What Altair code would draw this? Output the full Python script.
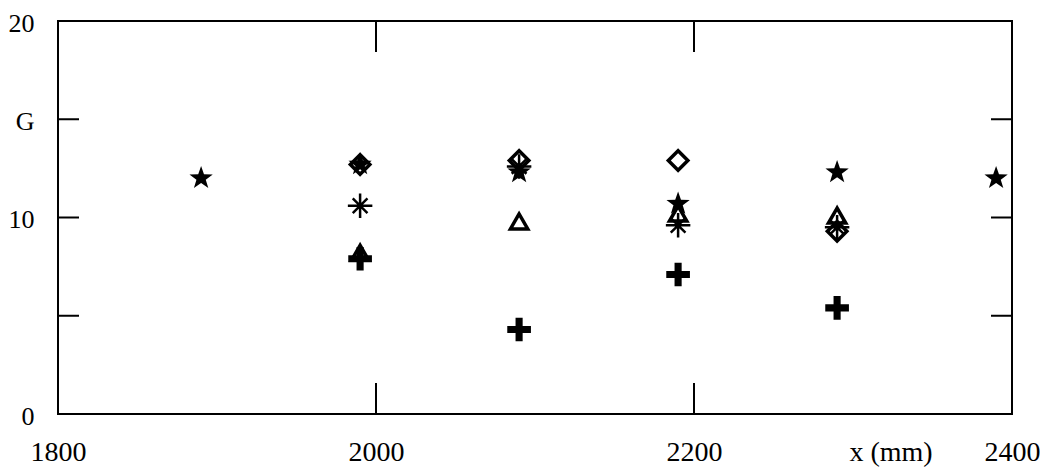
import altair as alt
import pandas as pd

# ---- data ----
x_star = [1890, 1990, 2090, 2190, 2290, 2390]
g_star = [12.0, 12.7, 12.3, 10.7, 12.3, 12.0]

x_diamond = [1990, 2090, 2190, 2290]
g_diamond = [12.7, 12.9, 12.9, 9.3]

x_triangle = [1990, 2090, 2190, 2290]
g_triangle = [8.2, 9.8, 10.2, 10.1]

x_aster = [1990, 2090, 2190, 2290]
g_aster = [10.6, 12.6, 9.6, 9.5]

x_plus = [1990, 2090, 2190, 2290]
g_plus = [7.9, 4.3, 7.1, 5.4]

x_ticks = [1800, 2000, 2200, 2400]
y_ticks = [0, 10, 15, 20]
inner_x_ticks = [2000, 2200]
inner_y_ticks = [5, 10, 15]
y_label_15 = "G"
x_title = "x (mm)"

W, H = 954, 393
FONT = "Liberation Serif"

xs = alt.Scale(domain=[1800, 2400], nice=False, zero=False)
ys = alt.Scale(domain=[0, 20], nice=False, zero=False)

xax = alt.Axis(values=x_ticks, domain=False, ticks=False, grid=False, labelFont=FONT,
               labelFontSize=28, labelPadding=24, labelFlush=False, labelColor="black",
               title=None, format="d")
yax = alt.Axis(values=y_ticks, domain=False, ticks=False, grid=False, labelFont=FONT,
               labelFontSize=26, labelPadding=24, labelOffset=2, labelColor="black",
               title=None, labelFlush=False,
               labelExpr=f"datum.value == 15 ? '{y_label_15}' : datum.label")

def df(x, g):
    return pd.DataFrame({"x": x, "g": g})

STAR = ("M0,-1L0.235,-0.324L0.951,-0.309L0.380,0.124L0.588,0.809L0,0.4L-0.588,0.809"
        "L-0.380,0.124L-0.951,-0.309L-0.235,-0.324Z")
PLUS = "M-0.3,-1H0.3V-0.3H1V0.3H0.3V1H-0.3V0.3H-1V-0.3H-0.3Z"
ASTER = "M0,-1L0,1M-1,0L1,0M-0.6,-0.6L0.6,0.6M-0.6,0.6L0.6,-0.6"

def pts(d, **kw):
    return alt.Chart(d).mark_point(color="black", opacity=1, **kw).encode(
        x=alt.X("x:Q", scale=xs, axis=xax),
        y=alt.Y("g:Q", scale=ys, axis=yax),
    )

plus = pts(df(x_plus, g_plus), shape=PLUS, filled=True, size=560)
tri = pts(df(x_triangle, g_triangle), shape="triangle-up", filled=False, size=300, strokeWidth=3.5)
dia = pts(df(x_diamond, g_diamond), shape="diamond", filled=False, size=380, strokeWidth=3.5)
ast = pts(df(x_aster, g_aster), shape=ASTER, filled=False, size=600, strokeWidth=2.5)
star = pts(df(x_star, g_star), shape=STAR, filled=True, size=600)

tx = pd.DataFrame({"x": inner_x_ticks})
ty = pd.DataFrame({"g": inner_y_ticks})
top_t = alt.Chart(tx).mark_rule(color="black", strokeWidth=2).encode(
    x=alt.X("x:Q", scale=xs), y=alt.value(0), y2=alt.value(31))
bot_t = alt.Chart(tx).mark_rule(color="black", strokeWidth=2).encode(
    x=alt.X("x:Q", scale=xs), y=alt.value(H), y2=alt.value(H - 31))
left_t = alt.Chart(ty).mark_rule(color="black", strokeWidth=2).encode(
    y=alt.Y("g:Q", scale=ys), x=alt.value(0), x2=alt.value(21))
right_t = alt.Chart(ty).mark_rule(color="black", strokeWidth=2).encode(
    y=alt.Y("g:Q", scale=ys), x=alt.value(W), x2=alt.value(W - 21))

title = alt.Chart(pd.DataFrame({"t": [x_title]})).mark_text(
    font=FONT, fontSize=28, color="black", baseline="middle", align="center"
).encode(x=alt.value(833), y=alt.value(432), text="t:N")

chart = alt.layer(top_t, bot_t, left_t, right_t, plus, tri, dia, ast, star, title).properties(
    width=W, height=H,
    autosize=alt.AutoSizeParams(type="none"),
    padding={"left": 50, "top": 13, "right": 28, "bottom": 56},
    background="white",
).configure_view(stroke="black", strokeWidth=2)

chart.save("out.html", embed_options={"renderer": "svg", "actions": False})
